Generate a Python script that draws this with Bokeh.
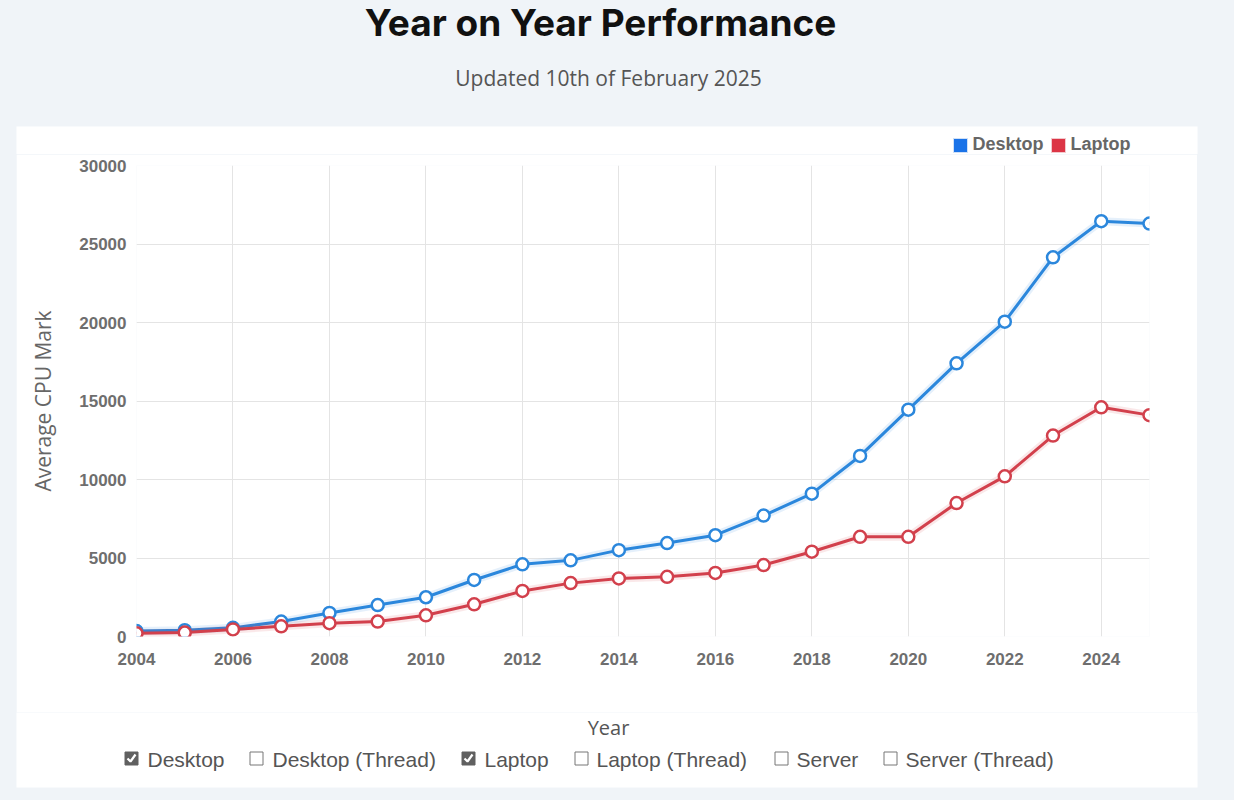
from bokeh.plotting import figure
from bokeh.models import Range1d, FixedTicker
from bokeh.layouts import column
from bokeh.core.properties import value
from bokeh.embed import file_html
from bokeh.resources import INLINE

# ---------------- data ----------------
years = list(range(2004, 2026))
desktop = [350, 400, 550, 950, 1500, 2000, 2500, 3600, 4600, 4850, 5500, 5950,
           6450, 7700, 9100, 11500, 14450, 17400, 20050, 24150, 26450, 26300]
laptop = [200, 250, 450, 650, 850, 950, 1350, 2050, 2900, 3400, 3700, 3800,
          4050, 4550, 5400, 6350, 6350, 8500, 10200, 12800, 14600, 14100]
x_ticks = list(range(2004, 2025, 2))
y_ticks = [0, 5000, 10000, 15000, 20000, 25000, 30000]
legend_names = ["Desktop", "Laptop"]
check_names = ["Desktop", "Desktop (Thread)", "Laptop", "Laptop (Thread)", "Server", "Server (Thread)"]
check_state = [True, False, True, False, False, False]
title_text = "Year on Year Performance"
subtitle_text = "Updated 10th of February 2025"
x_title = "Year"
y_title = "Average CPU Mark"

# ---------------- style ----------------
BG = "#f0f4f8"
BLUE = "#2b87dc"
RED = "#d2404c"
LEG_BLUE = "#1a73e8"
LEG_RED = "#dc3545"
GRID = "#e4e4e4"
TICK = "#6e6e6e"

W = 1234           # page width
CARD_L, CARD_R = 16, 1197
CARD_T, CARD_B = 126, 787
TOP_H = 154        # header strip: page y 0..154
FOOT_Y0 = 712      # footer strip: page y 712..800
PAGE_H = 800


def strip(height):
    f = figure(width=W, height=height, output_backend="svg", toolbar_location=None,
               x_range=Range1d(0, W), y_range=Range1d(0, height),
               min_border=0, outline_line_color=None,
               background_fill_color=BG, border_fill_color=BG)
    f.axis.visible = False
    f.grid.visible = False
    return f


# ---------------- header strip (title, subtitle, legend) ----------------
top = strip(TOP_H)
ty = lambda py: TOP_H - py
top.quad(left=[CARD_L], right=[CARD_R], bottom=[-3], top=[ty(CARD_T)],
         fill_color="white", line_color=None)
top.text(x=[600], y=[ty(22)], text=[title_text], text_font=value("Inter"),
         text_font_style="bold", text_font_size="37px", text_color="#111111",
         text_align="center", text_baseline="middle")
top.text(x=[608], y=[ty(77)], text=[subtitle_text], text_font=value("Open Sans"),
         text_font_size="21px", text_color="#555555",
         text_align="center", text_baseline="middle")
leg_box_x = [960, 1058]
leg_text_x = [972, 1070]
top.rect(x=leg_box_x, y=[ty(145)] * 2, width=14, height=14,
         fill_color=[LEG_BLUE, LEG_RED], line_color=["#cfe0f7", "#f2c9cd"], line_width=1)
top.text(x=leg_text_x, y=[ty(143.5)] * 2, text=legend_names, text_font=value("Liberation Sans"),
         text_font_style="bold", text_font_size="18px", text_color="#666666",
         text_align="left", text_baseline="middle")

# ---------------- main chart ----------------
MAIN_H = FOOT_Y0 - TOP_H
CW = CARD_R - CARD_L
p = figure(width=CW, height=MAIN_H, output_backend="svg", toolbar_location=None,
           x_range=Range1d(2004, 2025), y_range=Range1d(0, 30000),
           min_border_left=136 - CARD_L, min_border_right=CARD_R - 1149,
           min_border_top=165 - TOP_H, min_border_bottom=FOOT_Y0 - 636,
           outline_line_color=None, background_fill_color="white", border_fill_color="white")
p.margin = (0, W - CARD_R, 0, CARD_L)

p.xaxis.ticker = FixedTicker(ticks=x_ticks)
p.yaxis.ticker = FixedTicker(ticks=y_ticks)
p.xgrid.ticker = FixedTicker(ticks=x_ticks)
p.ygrid.ticker = FixedTicker(ticks=y_ticks)
for g in (p.xgrid, p.ygrid):
    g.grid_line_color = GRID
    g.grid_line_width = 1
for ax in (p.xaxis, p.yaxis):
    ax.axis_line_color = None
    ax.major_tick_line_color = None
    ax.minor_tick_line_color = None
    ax.major_label_text_font = "Liberation Sans"
    ax.major_label_text_font_size = "17px"
    ax.major_label_text_font_style = "bold"
    ax.major_label_text_color = TICK
    ax.axis_label_text_font = "Open Sans"
    ax.axis_label_text_font_style = "normal"
p.xaxis.major_label_standoff = 10
p.yaxis.major_label_standoff = 4
p.yaxis.axis_label = y_title
p.yaxis.axis_label_text_font_size = "21px"
p.yaxis.axis_label_text_color = "#666666"
p.yaxis.axis_label_standoff = 19

for vals, col in ((desktop, BLUE), (laptop, RED)):
    p.line(years, vals, line_color=col, line_width=8, line_alpha=0.12)
    p.line(years, vals, line_color=col, line_width=3)
    p.scatter(years, vals, size=12, marker="circle", fill_color="white",
              line_color=col, line_width=2.5)

# ---------------- footer strip (x title, checkboxes) ----------------
FOOT_H = PAGE_H - FOOT_Y0
foot = strip(FOOT_H)
fy = lambda py: PAGE_H - py
foot.quad(left=[CARD_L], right=[CARD_R], bottom=[fy(CARD_B)], top=[FOOT_H + 3],
          fill_color="white", line_color=None)
foot.text(x=[608], y=[fy(727)], text=[x_title], text_font=value("Open Sans"),
          text_font_size="20px", text_color="#555555",
          text_align="center", text_baseline="middle")
cb_box_x = [131, 256, 468, 581, 781, 890]
cb_text_x = [147, 272, 484, 596, 796, 905]
box_fill = ["#606060" if c else "white" for c in check_state]
box_line = ["#606060" if c else "#767676" for c in check_state]
foot.rect(x=cb_box_x, y=[fy(758)] * len(cb_box_x), width=13, height=13,
          fill_color=box_fill, line_color=box_line, line_width=1)
for c, bx in zip(check_state, cb_box_x):
    if c:
        foot.line(x=[bx - 4, bx - 1, bx + 4], y=[fy(758), fy(761), fy(754)],
                  line_color="white", line_width=2.2)
foot.text(x=cb_text_x, y=[fy(759)] * len(cb_text_x), text=check_names,
          text_font=value("Liberation Sans"), text_font_size="21px", text_color="#555555",
          text_align="left", text_baseline="middle")

# wrap the strips in their own boxes so their frames are not aligned with the chart's
layout = column(column(top, styles={"background-color": BG}),
                column(p, styles={"background-color": BG}),
                column(foot, styles={"background-color": BG}),
                styles={"background-color": BG})
open("out.html", "w").write(file_html(layout, INLINE))
